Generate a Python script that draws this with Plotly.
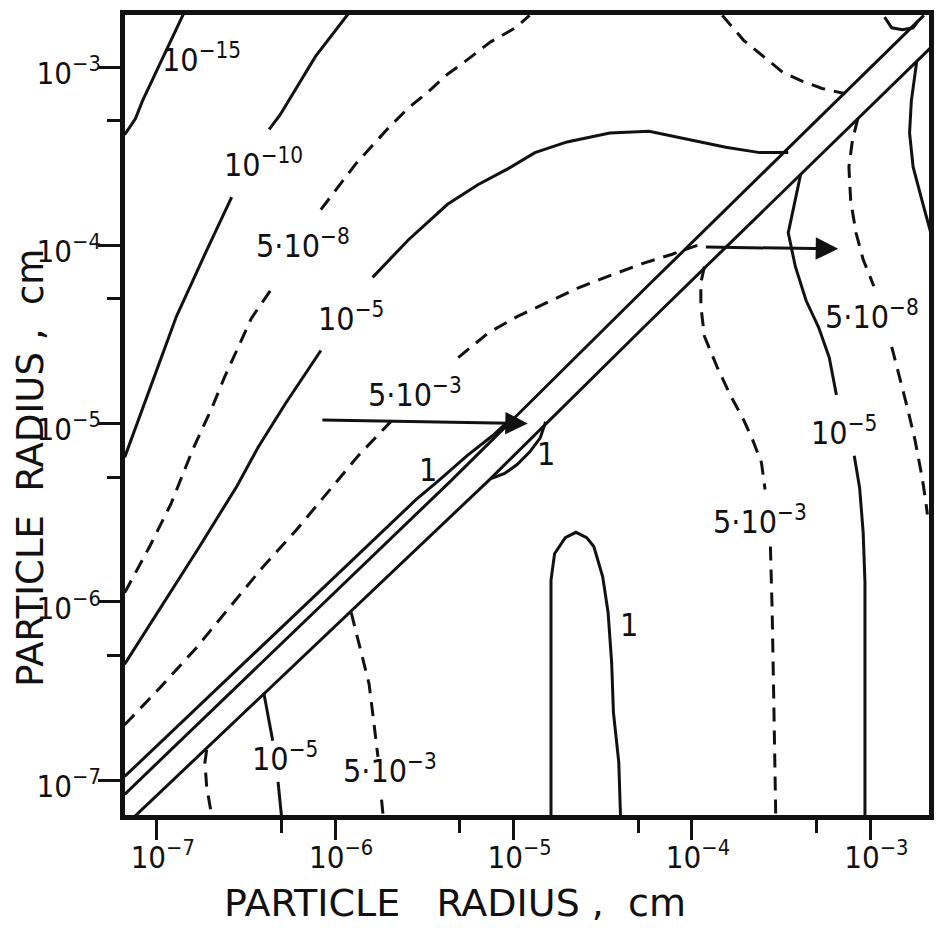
import plotly.graph_objects as go

LABEL_FONT = "DejaVu Sans Condensed, Liberation Sans Narrow, DejaVu Sans, sans-serif"
TITLE_FONT = "DejaVu Sans, Liberation Sans, sans-serif"
INK = "#111111"

# Iso-lines, given as log10(particle radius / cm) along each axis.
# None marks a break in a line where its value label sits.
iso_1e15_x = [-7.18, -7.12, -7.08, -6.97, -6.84]
iso_1e15_y = [-3.38, -3.29, -3.19, -2.96, -2.68]

iso_1e10_x = [-7.18, -7.02, -6.89, -6.73, -6.58, None, -6.37, -6.31, -6.11, -5.91]
iso_1e10_y = [-5.19, -4.76, -4.40, -4.05, -3.73, None, -3.35, -3.27, -2.94, -2.68]

iso_5e8_left_x = [-7.18, -7.04, -6.92, -6.80, -6.69, -6.62, -6.47, -6.34, None,
                  -6.08, -5.98, -5.89, -5.80, -5.70, -5.59, -5.48, -5.37, -5.26, -5.13, -4.99, -4.91]
iso_5e8_left_y = [-5.95, -5.69, -5.45, -5.15, -4.91, -4.74, -4.41, -4.22, None,
                  -3.80, -3.67, -3.55, -3.45, -3.34, -3.23, -3.14, -3.04, -2.96, -2.86, -2.78, -2.71]

iso_1e5_left_x = [-7.18, -7.06, -6.91, -6.76, -6.55, -6.43, -6.28, -6.08, None,
                  -5.79, -5.59, -5.37, -5.20, -5.03, -4.88, -4.70, -4.46, -4.24, -3.99, -3.81, -3.62, -3.46]
iso_1e5_left_y = [-6.35, -6.16, -5.93, -5.69, -5.35, -5.13, -4.89, -4.59, None,
                  -4.18, -3.97, -3.77, -3.66, -3.57, -3.48, -3.42, -3.37, -3.36, -3.41, -3.45, -3.48, -3.48]

iso_5e3_left_x = [-7.18, -6.98, -6.78, -6.59, -6.41, -6.22, -6.02, -5.87, -5.67, None,
                  -5.31, -5.14, -4.98, -4.81, -4.64, -4.46, -4.27, -4.11, -3.97]
iso_5e3_left_y = [-6.69, -6.48, -6.26, -6.03, -5.81, -5.60, -5.36, -5.18, -4.97, None,
                  -4.63, -4.49, -4.40, -4.32, -4.24, -4.17, -4.10, -4.05, -4.00]

# edges of the band around equal radii
band_upper_x = [-7.18, -5.35, -4.25, -2.70]
band_upper_y = [-7.08, -5.32, -4.23, -2.71]
band_lower_x = [-7.13, -5.14, -4.25, -2.66]
band_lower_y = [-7.21, -5.32, -4.44, -2.89]

iso_1_upper_x = [-7.18, -6.76, -6.31, -5.87, -5.55, -5.42, -5.26, -5.12, -5.01]
iso_1_upper_y = [-6.98, -6.58, -6.15, -5.73, -5.43, -5.32, -5.18, -5.07, -4.97]
iso_1_lens_x = [-5.13, -5.05, -4.98, -4.91, -4.85, -4.82]
iso_1_lens_y = [-5.31, -5.28, -5.23, -5.16, -5.08, -4.99]

iso_1e5_low_x = [-6.40, -6.38, -6.35, None, -6.32, -6.31, -6.30]
iso_1e5_low_y = [-6.51, -6.62, -6.78, None, -7.01, -7.10, -7.21]

iso_5e3_low_a_x = [-6.72, -6.73, -6.72, -6.69]
iso_5e3_low_a_y = [-6.83, -6.90, -7.04, -7.21]
iso_5e3_low_b_x = [-5.91, -5.88, -5.84, -5.81, -5.79, -5.77, -5.76, None, -5.74, -5.73]
iso_5e3_low_b_y = [-6.06, -6.18, -6.33, -6.46, -6.62, -6.79, -6.87, None, -7.11, -7.21]

iso_1_low_x = [-4.79, -4.79, -4.79, -4.77, -4.71, -4.65, -4.59, -4.55, -4.50, -4.47, -4.45, -4.44, -4.41, -4.40]
iso_1_low_y = [-7.21, -6.62, -5.88, -5.73, -5.64, -5.61, -5.64, -5.69, -5.86, -6.06, -6.34, -6.62, -6.90, -7.21]

iso_5e3_right_x = [-3.93, -3.95, -3.95, -3.93, -3.86, -3.79, -3.71, -3.66, -3.61, -3.59, None,
                   -3.56, -3.55, -3.54, -3.53]
iso_5e3_right_y = [-4.12, -4.21, -4.34, -4.51, -4.68, -4.83, -4.98, -5.09, -5.22, -5.37, None,
                   -5.69, -6.06, -6.62, -7.21]

iso_1e5_right_x = [-3.39, -3.43, -3.46, -3.42, -3.36, -3.29, -3.23, -3.19, None,
                   -3.09, -3.06, -3.04, -3.03, -3.03, -3.03]
iso_1e5_right_y = [-3.60, -3.79, -3.93, -4.12, -4.31, -4.46, -4.63, -4.84, None,
                   -5.18, -5.36, -5.61, -5.89, -6.44, -7.21]

iso_5e8_right_x = [-3.07, -3.10, -3.12, -3.11, -3.08, -3.04, -2.98, None,
                   -2.88, -2.84, -2.79, -2.75, -2.71, -2.69, -2.68]
iso_5e8_right_y = [-3.29, -3.41, -3.56, -3.75, -3.93, -4.08, -4.23, None,
                   -4.57, -4.72, -4.92, -5.09, -5.30, -5.43, -5.51]

iso_1e5_far_x = [-2.74, -2.77, -2.78, -2.76, -2.71, -2.65]
iso_1e5_far_y = [-2.97, -3.19, -3.37, -3.56, -3.75, -3.97]

iso_5e8_top_x = [-3.83, -3.71, -3.60, -3.49, -3.38, -3.27, -3.14]
iso_5e8_top_y = [-2.71, -2.85, -2.94, -3.03, -3.08, -3.12, -3.15]

iso_top_loop_x = [-2.92, -2.88, -2.82, -2.76, -2.73]
iso_top_loop_y = [-2.72, -2.78, -2.79, -2.78, -2.74]

# axis ticks (cm)
major_ticks = [1e-7, 1e-6, 1e-5, 1e-4, 1e-3]
major_text = ["10<sup>\u22127</sup>", "10<sup>\u22126</sup>", "10<sup>\u22125</sup>",
              "10<sup>\u22124</sup>", "10<sup>\u22123</sup>"]
minor_ticks = [5e-7, 5e-6, 5e-5, 5e-4]

# value labels: text, log10 x, log10 y
labels = [
    ("10<sup>\u221215</sup>", -6.75, -2.95),
    ("10<sup>\u221210</sup>", -6.40, -3.54),
    ("5\u00b710<sup>\u22128</sup>", -6.18, -3.99),
    ("10<sup>\u22125</sup>", -5.91, -4.40),
    ("5\u00b710<sup>\u22123</sup>", -5.55, -4.83),
    ("1", -5.48, -5.26),
    ("1", -4.82, -5.17),
    ("10<sup>\u22125</sup>", -6.28, -6.87),
    ("5\u00b710<sup>\u22123</sup>", -5.69, -6.94),
    ("1", -4.35, -6.13),
    ("5\u00b710<sup>\u22123</sup>", -3.62, -5.54),
    ("10<sup>\u22125</sup>", -3.15, -5.04),
    ("5\u00b710<sup>\u22128</sup>", -2.99, -4.39),
]

# arrows: (tail log10 x, tail log10 y, head log10 x, head log10 y)
arrows = [(-6.08, -4.98, -4.92, -5.00), (-3.93, -4.01, -3.18, -4.02)]


def to_cm(vals):
    return [None if v is None else 10 ** v for v in vals]


SOLID = [
    (iso_1e15_x, iso_1e15_y), (iso_1e10_x, iso_1e10_y), (iso_1e5_left_x, iso_1e5_left_y),
    (band_upper_x, band_upper_y), (band_lower_x, band_lower_y),
    (iso_1_upper_x, iso_1_upper_y), (iso_1_lens_x, iso_1_lens_y),
    (iso_1e5_low_x, iso_1e5_low_y), (iso_1_low_x, iso_1_low_y),
    (iso_1e5_right_x, iso_1e5_right_y), (iso_1e5_far_x, iso_1e5_far_y),
    (iso_top_loop_x, iso_top_loop_y),
]
DASHED = [
    (iso_5e8_left_x, iso_5e8_left_y), (iso_5e3_left_x, iso_5e3_left_y),
    (iso_5e3_low_a_x, iso_5e3_low_a_y), (iso_5e3_low_b_x, iso_5e3_low_b_y),
    (iso_5e3_right_x, iso_5e3_right_y), (iso_5e8_right_x, iso_5e8_right_y),
    (iso_5e8_top_x, iso_5e8_top_y),
]

fig = go.Figure()
for xs, ys in SOLID:
    fig.add_trace(go.Scatter(x=to_cm(xs), y=to_cm(ys), mode="lines", connectgaps=False,
                             line=dict(color=INK, width=3), hoverinfo="skip"))
for xs, ys in DASHED:
    fig.add_trace(go.Scatter(x=to_cm(xs), y=to_cm(ys), mode="lines", connectgaps=False,
                             line=dict(color=INK, width=3, dash="14px,9px"), hoverinfo="skip"))

for text, lx, ly in labels:
    fig.add_annotation(x=lx, y=ly, xref="x", yref="y", text=text, showarrow=False,
                       font=dict(family=LABEL_FONT, size=32, color=INK),
                       xanchor="center", yanchor="middle")

for tx, ty, hx, hy in arrows:
    fig.add_annotation(x=hx, y=hy, ax=tx, ay=ty, xref="x", yref="y", axref="x", ayref="y",
                       text="", showarrow=True, arrowhead=2, arrowsize=1.5,
                       arrowwidth=3, arrowcolor=INK, standoff=0)

fig.add_annotation(x=0.41, y=-0.11, xref="paper", yref="paper",
                   text="PARTICLE\u00a0\u00a0\u00a0RADIUS\u00a0,\u00a0\u00a0cm", showarrow=False,
                   font=dict(family=TITLE_FONT, size=38, color=INK), xanchor="center", yanchor="middle")
fig.add_annotation(x=-0.117, y=0.434, xref="paper", yref="paper", textangle=-90,
                   text="PARTICLE\u00a0\u00a0RADIUS\u00a0,\u00a0\u00a0cm", showarrow=False,
                   font=dict(family=TITLE_FONT, size=37, color=INK), xanchor="center", yanchor="middle")

axis_common = dict(
    type="log", showgrid=False, zeroline=False,
    showline=True, linecolor=INK, linewidth=5, mirror=True,
    tickmode="array", tickvals=major_ticks, ticktext=major_text,
    ticks="outside", tickwidth=3, tickcolor=INK,
    tickfont=dict(family=LABEL_FONT, size=31, color=INK),
    minor=dict(tickmode="array", tickvals=minor_ticks, ticks="outside",
               ticklen=13, tickwidth=3, tickcolor=INK, showgrid=False),
)

fig.update_layout(
    width=936, height=932,
    margin=dict(l=125, r=2, t=15, b=117),
    paper_bgcolor="white", plot_bgcolor="white",
    showlegend=False, hovermode=False,
    xaxis=dict(range=[-7.178, -2.671], ticklen=20, ticklabelstandoff=-9,
               ticklabelshift=6, **axis_common),
    yaxis=dict(range=[-7.196, -2.708], ticklen=22, ticklabelstandoff=-9,
               ticklabelshift=6, **axis_common),
)

fig.write_html("out.html")
